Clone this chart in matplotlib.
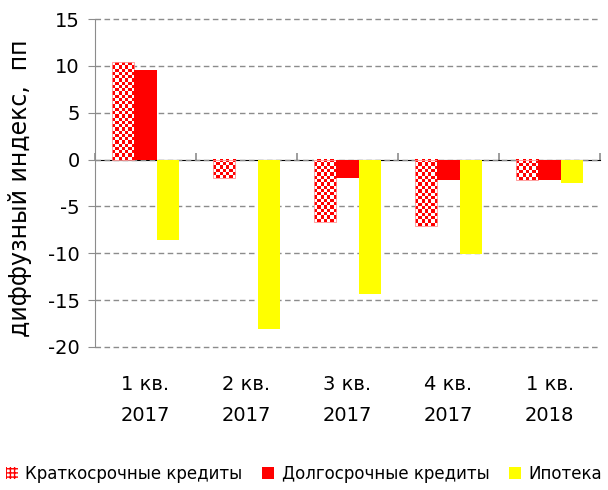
import numpy as np
import matplotlib
matplotlib.use("Agg")
import matplotlib.pyplot as plt
from matplotlib.colors import ListedColormap
from matplotlib.patches import Patch

categories = ["1 кв.\n2017", "2 кв.\n2017", "3 кв.\n2017", "4 кв.\n2017", "1 кв.\n2018"]
short_term = [10.4, -2.0, -6.7, -7.1, -2.2]
long_term = [9.6, 0.0, -2.0, -2.2, -2.2]
mortgage = [-8.6, -18.1, -14.4, -10.1, -2.5]
labels = ["Краткосрочные кредиты", "Долгосрочные кредиты", "Ипотека"]

plt.rcParams["font.family"] = ["DejaVu Sans"]
plt.rcParams["axes.unicode_minus"] = False
GRAY = "#8c8c8c"
YMIN, YMAX = -20, 15

fig = plt.figure(figsize=(6.08, 4.9), dpi=100)
ax = fig.add_axes([0.156, 0.292, 0.831, 0.669])

x = np.arange(len(categories))
w = 0.223
bars_s = ax.bar(x - w, short_term, w, color="none", edgecolor="#ff9090", lw=0.6, zorder=3)
ax.bar(x, long_term, w, color="#ff0000", zorder=3)
ax.bar(x + w, mortgage, w, color="#ffff00", zorder=3)

# checkerboard fill for short-term bars
ppu = 0.669 * 490 / (YMAX - YMIN)
cmap = ListedColormap(["white", "#ff0000"])
for r in bars_s:
    x0, y0, bw, bh = r.get_x(), r.get_y(), r.get_width(), r.get_height()
    nx = 7
    ny = max(1, int(round(abs(bh) * ppu / 3.3)))
    chk = (np.add.outer(np.arange(ny), np.arange(nx)) % 2)
    ax.imshow(chk, extent=[x0, x0 + bw, y0, y0 + bh], cmap=cmap,
              interpolation="nearest", aspect="auto", zorder=2.5)

ax.set_xlim(-0.5, len(categories) - 0.5)
ax.set_ylim(YMIN, YMAX)
ax.set_yticks(np.arange(YMIN, YMAX + 1, 5))
ax.yaxis.grid(True, ls=(0, (4, 2.5)), color=GRAY, lw=1)
for gl in ax.get_ygridlines():
    gl.set_clip_on(False)
ax.set_axisbelow(True)
for s in ["top", "right", "bottom"]:
    ax.spines[s].set_visible(False)
ax.spines["left"].set_color(GRAY)
ax.tick_params(axis="y", direction="out", length=5, color=GRAY, labelsize=14, pad=6)
ax.set_xticks(x)
ax.set_xticklabels(categories, fontsize=14, linespacing=1.85)
ax.tick_params(axis="x", length=0, pad=20)
ax.set_ylabel("диффузный индекс,  пп", fontsize=17)
ax.yaxis.set_label_coords(-0.125, 0.483)

# zero line with category boundary ticks
sec = ax.secondary_xaxis((0 - YMIN) / (YMAX - YMIN))
sec.set_xticks(np.arange(len(categories) + 1) - 0.5)
sec.set_xticklabels([])
sec.tick_params(direction="out", length=5, color=GRAY, width=1.2)
sec.spines["bottom"].set_color(GRAY)
sec.spines["bottom"].set_linewidth(1.2)

handles = [Patch(facecolor="white", edgecolor="#ff0000", hatch="++++", lw=0),
           Patch(facecolor="#ff0000"), Patch(facecolor="#ffff00")]
fig.legend(handles, labels, loc="center", bbox_to_anchor=(0.5, 0.033), ncol=3,
           frameon=False, fontsize=12, handlelength=0.7, handleheight=0.7,
           handletextpad=0.45, columnspacing=1.2)

fig.savefig("out.png", dpi=100)
